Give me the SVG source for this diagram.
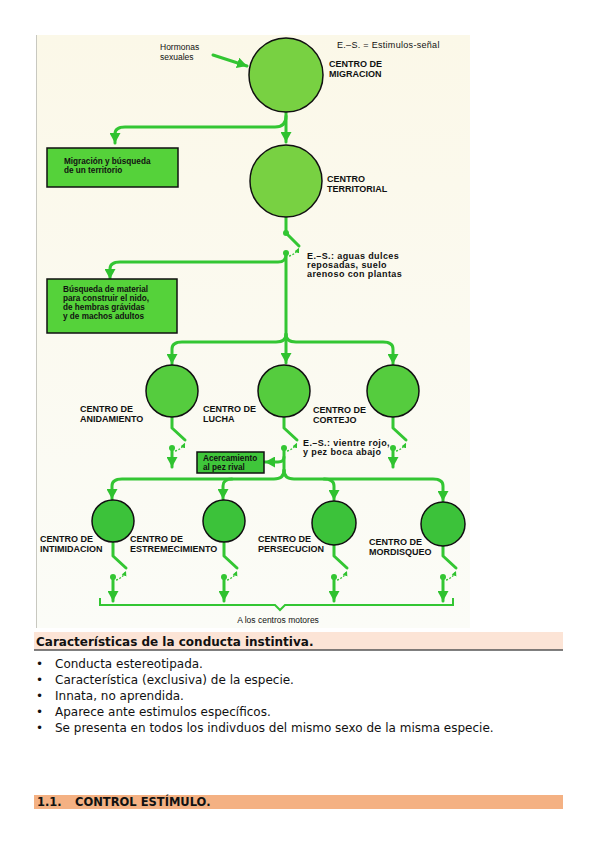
<svg xmlns="http://www.w3.org/2000/svg" width="599" height="848" viewBox="0 0 599 848">
<defs>
<linearGradient id="bg" x1="0" y1="0" x2="0" y2="1">
<stop offset="0" stop-color="#fbf8e8"/>
<stop offset="0.5" stop-color="#fbfaf0"/>
<stop offset="1" stop-color="#fbfcf7"/>
</linearGradient>
<marker id="ah" markerUnits="userSpaceOnUse" markerWidth="12" markerHeight="11" refX="10" refY="5.5" orient="auto">
<path d="M0,0 L10,5.5 L0,11 Z" fill="#2fc22f"/>
</marker>
<marker id="as" markerUnits="userSpaceOnUse" markerWidth="6" markerHeight="6" refX="5" refY="3" orient="auto">
<path d="M0,0.5 L5,3 L0,5.5 Z" fill="#2fc22f"/>
</marker>
</defs>
<style>
.ln{fill:none;stroke:#33c633;stroke-width:3;stroke-linecap:round;stroke-linejoin:round}
.arr{marker-end:url(#ah)}
.dash{fill:none;stroke:#33c633;stroke-width:1.3;stroke-dasharray:2 1.5;marker-end:url(#as)}
.dot{fill:#33c633}
.c1{fill:#78d142;stroke:#111;stroke-width:1.5}
.c2{fill:#55cc3e;stroke:#111;stroke-width:1.5}
.c3{fill:#3cc23a;stroke:#111;stroke-width:1.5}
.box{fill:#55d23a;stroke:#111;stroke-width:1.5}
.lbl{font-family:"Liberation Sans",Arial,sans-serif;font-size:9px;font-weight:bold;fill:#111}
.bt{font-family:"Liberation Sans",Arial,sans-serif;font-size:8.2px;font-weight:bold;fill:#111}
.es{font-family:"Liberation Sans",Arial,sans-serif;font-size:9px;font-weight:bold;fill:#111;letter-spacing:0.4px}
.reg{font-family:"Liberation Sans",Arial,sans-serif;font-size:8.5px;fill:#111}
.doc{font-family:"DejaVu Sans",Verdana,sans-serif;font-size:12px;fill:#111}
.hd{font-family:"DejaVu Sans",Verdana,sans-serif;font-size:12px;font-weight:bold;fill:#111}
.hd2{font-family:"DejaVu Sans",Verdana,sans-serif;font-size:11.5px;font-weight:bold;fill:#111}
</style>
<rect width="599" height="848" fill="#ffffff"/>
<rect x="36" y="35" width="434" height="593" fill="url(#bg)"/>
<line x1="36.5" y1="35" x2="36.5" y2="628" stroke="#c8c8c0" stroke-width="1"/>

<g id="connectors">
<path class="ln arr" d="M213,55 L247,66"/>
<path class="ln arr" d="M286,112 L286,142"/>
<path class="ln arr" d="M286,116 Q286,127 275,127 L125,127 Q115,127 115,134 L115,143"/>
<path class="ln" d="M286,217 L286,233 L299,246"/>
<circle class="dot" cx="286" cy="233" r="3"/>
<circle class="dot" cx="286" cy="253" r="3"/>
<path class="dash" d="M289,256 Q296,254 299,248"/>
<path class="ln arr" d="M286,253 L286,363"/>
<path class="ln arr" d="M286,255 Q286,262 278,262 L120,262 Q110,262 110,269 L110,279"/>
<path class="ln arr" d="M286,334 Q286,342 276,342 L182,342 Q172,342 172,349 L172,364"/>
<path class="ln arr" d="M286,334 Q286,342 296,342 L383,342 Q393,342 393,349 L393,364"/>

<path class="ln" d="M172,417 L172,428 L185,440"/>
<circle class="dot" cx="172" cy="448" r="3"/>
<path class="dash" d="M175,451 Q182,449 185,443"/>
<path class="ln arr" d="M172,448 L172,467"/>

<path class="ln" d="M393,417 L393,428 L406,440"/>
<circle class="dot" cx="393" cy="448" r="3"/>
<path class="dash" d="M396,451 Q403,449 406,443"/>
<path class="ln arr" d="M393,448 L393,467"/>

<path class="ln" d="M284,417 L284,428 L297,440"/>
<circle class="dot" cx="284" cy="448" r="3"/>
<path class="dash" d="M287,451 Q294,449 297,443"/>
<path class="ln" d="M284,448 L284,472"/>
<path class="ln arr" d="M284,457 Q284,462 278,462 L265,462"/>
<path class="ln arr" d="M284,470 Q284,479 274,479 L122,479 Q112,479 112,486 L112,499"/>
<path class="ln arr" d="M232,479 Q223,479 223,486 L223,499"/>
<path class="ln arr" d="M284,470 Q284,479 294,479 L433,479 Q443,479 443,486 L443,501"/>
<path class="ln arr" d="M324,479 Q334,479 334,486 L334,500"/>

<path class="ln" d="M113,543 L113,556 L126,568"/>
<circle class="dot" cx="113" cy="577" r="3"/>
<path class="dash" d="M116,580 Q123,578 126,571"/>
<path class="ln arr" d="M113,577 L113,601"/>

<path class="ln" d="M224,543 L224,556 L237,568"/>
<circle class="dot" cx="224" cy="577" r="3"/>
<path class="dash" d="M227,580 Q234,578 237,571"/>
<path class="ln arr" d="M224,577 L224,601"/>

<path class="ln" d="M334,545 L334,556 L347,568"/>
<circle class="dot" cx="334" cy="577" r="3"/>
<path class="dash" d="M337,580 Q344,578 347,571"/>
<path class="ln arr" d="M334,577 L334,601"/>

<path class="ln" d="M443,546 L443,556 L456,568"/>
<circle class="dot" cx="443" cy="577" r="3"/>
<path class="dash" d="M446,580 Q453,578 456,571"/>
<path class="ln arr" d="M443,577 L443,601"/>

<path d="M100,598 L100,605 L275,605 L280,610 L285,605 L453,605 L453,598" fill="none" stroke="#33c633" stroke-width="2"/>
</g>

<g id="hormonas"><text class="reg" x="160" y="50">Hormonas</text><text class="reg" x="160" y="60">sexuales</text></g>
<g id="es-legend"><text class="reg" x="337" y="48" style="font-size:9px;letter-spacing:0.3px">E.–S. = Estimulos-señal</text></g>

<g id="migracion">
<circle class="c1" cx="286" cy="75" r="37"/>
<text class="lbl" x="329" y="67">CENTRO DE</text><text class="lbl" x="329" y="77">MIGRACION</text>
</g>
<g id="box-migracion">
<rect class="box" x="47" y="148" width="131" height="39"/>
<text class="bt" x="64" y="164">Migración y búsqueda</text><text class="bt" x="64" y="173">de un territorio</text>
</g>
<g id="territorial">
<circle class="c1" cx="286" cy="181" r="36"/>
<text class="lbl" x="327" y="182">CENTRO</text><text class="lbl" x="327" y="192">TERRITORIAL</text>
</g>
<g id="es-territorial">
<text class="es" x="307" y="259">E.–S.: aguas dulces</text><text class="es" x="307" y="268">reposadas, suelo</text><text class="es" x="307" y="277">arenoso con plantas</text>
</g>
<g id="box-busqueda">
<rect class="box" x="47" y="279" width="130" height="54"/>
<text class="bt" x="63" y="292">Búsqueda de material</text><text class="bt" x="63" y="301">para construir el nido,</text><text class="bt" x="63" y="310">de hembras grávidas</text><text class="bt" x="63" y="319">y de machos adultos</text>
</g>
<g id="anidamiento">
<circle class="c2" cx="172" cy="391" r="26"/>
<text class="lbl" x="80" y="412">CENTRO DE</text><text class="lbl" x="80" y="422">ANIDAMIENTO</text>
</g>
<g id="lucha">
<circle class="c2" cx="284" cy="391" r="26"/>
<text class="lbl" x="203" y="412">CENTRO DE</text><text class="lbl" x="203" y="422">LUCHA</text>
</g>
<g id="cortejo">
<circle class="c2" cx="393" cy="391" r="26"/>
<text class="lbl" x="313" y="413">CENTRO DE</text><text class="lbl" x="313" y="423">CORTEJO</text>
</g>
<g id="es-lucha"><text class="es" x="303" y="446">E.–S.: vientre rojo,</text><text class="es" x="303" y="455">y pez boca abajo</text></g>
<g id="box-acercamiento">
<rect class="box" x="197" y="452" width="67" height="21" style="fill:#3fc63a"/>
<text class="bt" x="203" y="461">Acercamiento</text><text class="bt" x="203" y="470">al pez rival</text>
</g>
<g id="intimidacion">
<circle class="c3" cx="113" cy="521" r="21"/>
<text class="lbl" x="40" y="542">CENTRO DE</text><text class="lbl" x="40" y="552">INTIMIDACION</text>
</g>
<g id="estremecimiento">
<circle class="c3" cx="224" cy="521" r="21"/>
<text class="lbl" x="130" y="542">CENTRO DE</text><text class="lbl" x="130" y="552">ESTREMECIMIENTO</text>
</g>
<g id="persecucion">
<circle class="c3" cx="334" cy="523" r="22"/>
<text class="lbl" x="258" y="542">CENTRO DE</text><text class="lbl" x="258" y="552">PERSECUCION</text>
</g>
<g id="mordisqueo">
<circle class="c3" cx="443" cy="524" r="22"/>
<text class="lbl" x="369" y="545">CENTRO DE</text><text class="lbl" x="369" y="555">MORDISQUEO</text>
</g>
<g id="motores"><text class="reg" x="278" y="623" text-anchor="middle">A los centros motores</text></g>

<g id="section1">
<rect x="34" y="632" width="529" height="18" fill="#fce4d6"/>
<line x1="34" y1="650" x2="563" y2="650" stroke="#555" stroke-width="1.5"/>
<text class="hd" x="36" y="646">Características de la conducta instintiva.</text>
<text class="doc" x="36" y="668">•</text><text class="doc" x="55" y="668">Conducta estereotipada.</text>
<text class="doc" x="36" y="684">•</text><text class="doc" x="55" y="684">Característica (exclusiva) de la especie.</text>
<text class="doc" x="36" y="700">•</text><text class="doc" x="55" y="700">Innata, no aprendida.</text>
<text class="doc" x="36" y="716">•</text><text class="doc" x="55" y="716">Aparece ante estimulos específicos.</text>
<text class="doc" x="36" y="732">•</text><text class="doc" x="55" y="732">Se presenta en todos los indivduos del mismo sexo de la misma especie.</text>
</g>
<g id="section2">
<rect x="34" y="795" width="529" height="14" fill="#f4b183"/>
<text class="hd2" x="37" y="806">1.1.</text><text class="hd2" x="75" y="806">CONTROL ESTÍMULO.</text>
</g>
</svg>
